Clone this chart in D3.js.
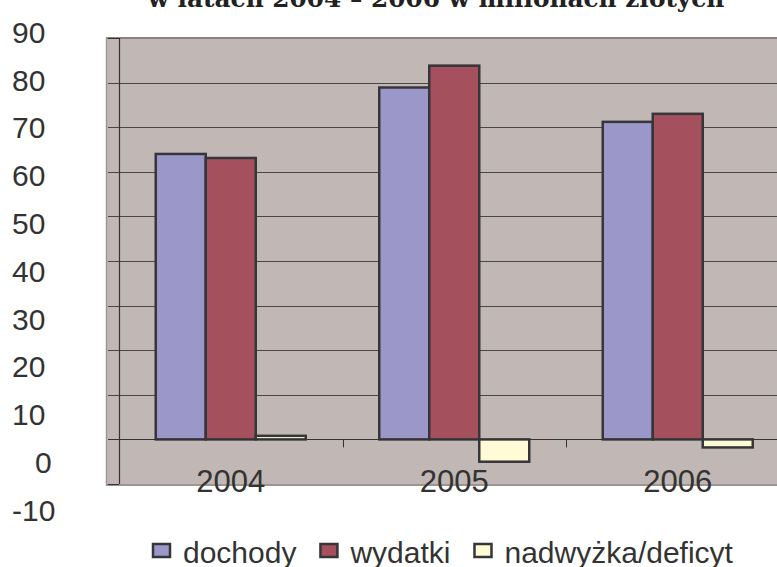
<!DOCTYPE html>
<html>
<head>
<meta charset="utf-8">
<script src="https://cdn.jsdelivr.net/npm/d3@7"></script>
<style>
  body { margin: 0; background: #fff; }
  svg { display: block; }
  text { font-family: "Liberation Sans", Arial, sans-serif; fill: #333; }
</style>
</head>
<body>
<script>
// data (mln zł)
const years = ["2004", "2005", "2006"];
const seriesNames = ["dochody", "wydatki", "nadwyżka/deficyt"];
const dochody = [64.0, 78.9, 71.2];
const wydatki = [63.1, 83.8, 73.0];
const saldo = [0.8, -5.0, -1.8];
const yTicks = [90, 80, 70, 60, 50, 40, 30, 20, 10, 0, -10];
const colors = ["#9b97c9", "#a5515d", "#fffbd6"];
const title = "w latach 2004 – 2006 w milionach złotych";

const svgWidth = 777, svgHeight = 567;
const plot = { left: 106, right: 777, top: 37, bottom: 486 };
const axisX = 119;

const svg = d3.select("body").append("svg")
    .attr("width", svgWidth)
    .attr("height", svgHeight);

const x = d3.scaleBand().domain(years).range([axisX, axisX + 3 * 223.5]).padding(0);
const xInner = d3.scaleBand().domain(seriesNames).range([0, x.bandwidth()])
    .paddingInner(0).paddingOuter(0.735);
const y = d3.scaleLinear().domain([-10, 90]).range([484, 38]);
// the tick labels sit on their own, slightly wider spacing
const yLabel = d3.scaleLinear().domain([-10, 90]).range([510, 32]);
const color = d3.scaleOrdinal().domain(seriesNames).range(colors);

// title (cut off at the top of the picture) - sized to span ~577px
const titleText = svg.append("text")
    .attr("x", 436)
    .attr("y", 7)
    .attr("text-anchor", "middle")
    .style("font-family", "'DejaVu Serif', 'Liberation Serif', serif")
    .style("font-weight", "bold")
    .style("font-size", "24px")
    .style("fill", "#222")
    .text(title);
const tw = titleText.node().getComputedTextLength();
titleText.style("font-size", (24 * 577 / tw).toFixed(2) + "px");

// plot area
svg.append("rect")
    .attr("x", plot.left)
    .attr("y", plot.top)
    .attr("width", plot.right - plot.left)
    .attr("height", plot.bottom - plot.top)
    .attr("fill", "#c1b7b4");
svg.append("line")
    .attr("x1", plot.left).attr("x2", plot.right)
    .attr("y1", plot.top + 1).attr("y2", plot.top + 1)
    .attr("stroke", "#8c8280").attr("stroke-width", 2);
svg.append("line")
    .attr("x1", plot.left).attr("x2", plot.right)
    .attr("y1", plot.bottom - 1).attr("y2", plot.bottom - 1)
    .attr("stroke", "#9d9390").attr("stroke-width", 2);
svg.append("line")
    .attr("x1", plot.left + 0.5).attr("x2", plot.left + 0.5)
    .attr("y1", plot.top).attr("y2", plot.bottom)
    .attr("stroke", "#a09693").attr("stroke-width", 1.5);

// gridlines + little ticks left of the axis
svg.append("g").selectAll("line")
    .data(yTicks.filter(d => d !== 0 && d !== 90 && d !== -10))
    .join("line")
    .attr("x1", 108).attr("x2", plot.right)
    .attr("y1", d => Math.round(y(d)) + 0.5)
    .attr("y2", d => Math.round(y(d)) + 0.5)
    .attr("stroke", "#4a4646").attr("stroke-width", 1);
svg.append("g").selectAll("line")
    .data([90, -10])
    .join("line")
    .attr("x1", 108).attr("x2", axisX)
    .attr("y1", d => Math.round(y(d)) + 0.5)
    .attr("y2", d => Math.round(y(d)) + 0.5)
    .attr("stroke", "#333").attr("stroke-width", 1);

// vertical axis
svg.append("line")
    .attr("x1", axisX + 0.5).attr("x2", axisX + 0.5)
    .attr("y1", y(90)).attr("y2", y(-10))
    .attr("stroke", "#333").attr("stroke-width", 1.2);

// y labels
svg.append("g").selectAll("text")
    .data(yTicks)
    .join("text")
    .attr("x", 12)
    .attr("dx", d => d === 0 ? 23 : 0)
    .attr("y", d => yLabel(d))
    .attr("dy", "0.36em")
    .style("font-size", "30px")
    .text(d => d);

// bars
const rows = years.map((year, i) => ({ year, values: [dochody[i], wydatki[i], saldo[i]] }));

svg.append("g").selectAll("g")
    .data(rows)
    .join("g")
    .attr("transform", d => `translate(${x(d.year)},0)`)
    .selectAll("rect")
    .data(d => seriesNames.map((name, j) => ({ name, value: d.values[j] })))
    .join("rect")
    .attr("x", d => xInner(d.name))
    .attr("y", d => y(Math.max(0, d.value)))
    .attr("width", xInner.bandwidth())
    .attr("height", d => Math.abs(y(d.value) - y(0)))
    .attr("fill", d => color(d.name))
    .attr("stroke", "#36353a")
    .attr("stroke-width", 2.5);

// zero line and category ticks
svg.append("line")
    .attr("x1", 108).attr("x2", plot.right)
    .attr("y1", Math.round(y(0)) + 0.5).attr("y2", Math.round(y(0)) + 0.5)
    .attr("stroke", "#333").attr("stroke-width", 1.2);
svg.append("g").selectAll("line")
    .data(years.slice(1))
    .join("line")
    .attr("x1", d => Math.round(x(d)) + 0.5).attr("x2", d => Math.round(x(d)) + 0.5)
    .attr("y1", y(0)).attr("y2", y(0) + 8)
    .attr("stroke", "#333").attr("stroke-width", 1);

// category labels
svg.append("g").selectAll("text")
    .data(years)
    .join("text")
    .attr("x", d => x(d) + x.bandwidth() / 2)
    .attr("y", 492)
    .attr("text-anchor", "middle")
    .style("font-size", "31px")
    .text(d => d);

// legend
const legend = svg.append("g");
let lx = 153;
seriesNames.forEach((name, i) => {
    legend.append("rect")
        .attr("x", lx).attr("y", 544)
        .attr("width", 17).attr("height", 13)
        .attr("fill", colors[i])
        .attr("stroke", "#36353a")
        .attr("stroke-width", 2.5);
    const t = legend.append("text")
        .attr("x", lx + 30)
        .attr("y", 563)
        .style("font-size", "30px")
        .text(name);
    lx += 30 + t.node().getComputedTextLength() + 24;
});
</script>
</body>
</html>
